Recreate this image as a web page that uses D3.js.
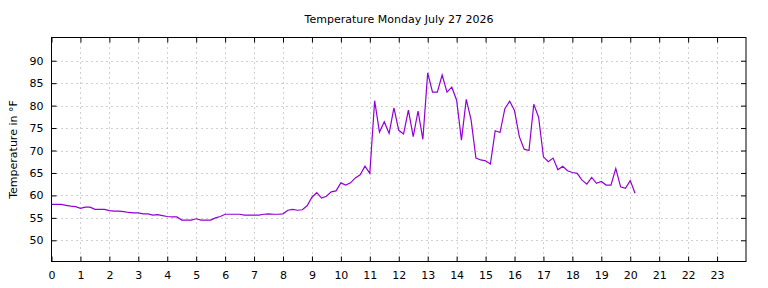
<!DOCTYPE html>
<html>
<head>
<meta charset="utf-8">
<script src="https://cdn.jsdelivr.net/npm/d3@7"></script>
<style>
  body { margin: 0; background: #fff; }
  svg text { font-family: "DejaVu Sans", sans-serif; font-size: 11px; fill: #000; }
</style>
</head>
<body>
<svg id="chart" width="768" height="288"></svg>
<script>
const title = "Temperature Monday July 27 2026";
const yLabel = "Temperature in °F";

// readings every 10 minutes, time of day
const times = [
  "00:00","00:10","00:20","00:30","00:40","00:50",
  "01:00","01:10","01:20","01:30","01:40","01:50",
  "02:00","02:10","02:20","02:30","02:40","02:50",
  "03:00","03:10","03:20","03:30","03:40","03:50",
  "04:00","04:10","04:20","04:30","04:40","04:50",
  "05:00","05:10","05:20","05:30","05:40","05:50",
  "06:00","06:10","06:20","06:30","06:40","06:50",
  "07:00","07:10","07:20","07:30","07:40","07:50",
  "08:00","08:10","08:20","08:30","08:40","08:50",
  "09:00","09:10","09:20","09:30","09:40","09:50",
  "10:00","10:10","10:20","10:30","10:40","10:50",
  "11:00","11:10","11:20","11:30","11:40","11:50",
  "12:00","12:10","12:20","12:30","12:40","12:50",
  "13:00","13:10","13:20","13:30","13:40","13:50",
  "14:00","14:10","14:20","14:30","14:40","14:50",
  "15:00","15:10","15:20","15:30","15:40","15:50",
  "16:00","16:10","16:20","16:30","16:40","16:50",
  "17:00","17:10","17:20","17:30","17:40","17:50",
  "18:00","18:10","18:20","18:30","18:40","18:50",
  "19:00","19:10","19:20","19:30","19:40","19:50",
  "20:00","20:10"
];

const temps = [
  58.0, 58.0, 58.0, 57.8, 57.6, 57.5,
  57.1, 57.4, 57.4, 56.9, 56.9, 56.9,
  56.6, 56.5, 56.5, 56.4, 56.2, 56.1,
  56.1, 55.9, 55.9, 55.6, 55.7, 55.5,
  55.3, 55.2, 55.2, 54.5, 54.5, 54.5,
  54.8, 54.5, 54.5, 54.5, 55.0, 55.3,
  55.8, 55.8, 55.8, 55.8, 55.6, 55.6,
  55.6, 55.6, 55.8, 55.9, 55.8, 55.8,
  55.9, 56.7, 56.9, 56.7, 56.8, 57.7,
  59.6, 60.6, 59.4, 59.8, 60.8, 61.0,
  62.8, 62.3, 62.8, 63.9, 64.6, 66.5,
  64.9, 81.1, 74.1, 76.4, 73.8, 79.5,
  74.5, 73.7, 79.0, 73.1, 78.8, 72.5,
  87.3, 83.0, 83.0, 86.8, 83.0, 84.1,
  81.2, 72.3, 81.4, 76.8, 68.3, 67.9,
  67.7, 67.0, 74.4, 74.0, 79.3, 81.0,
  78.9, 73.1, 70.3, 70.0, 80.3, 77.4,
  68.6, 67.5, 68.3, 65.7, 66.5, 65.5,
  65.1, 64.9, 63.4, 62.5, 64.0, 62.7,
  63.1, 62.3, 62.3, 66.0, 61.9, 61.6,
  63.3, 60.5
];

const xTicks = d3.range(0, 24);
const yTicks = [50, 55, 60, 65, 70, 75, 80, 85, 90];

const toHours = t => { const [h, m] = t.split(":").map(Number); return h + m / 60; };
const data = times.map((t, i) => ({ hour: toHours(t), temp: temps[i] }));

const svg = d3.select("#chart");
const margin = { top: 37.5, right: 22, bottom: 26.5, left: 51.5 };
const width = +svg.attr("width");
const height = +svg.attr("height");

const x = d3.scaleLinear().domain([0, 24]).range([margin.left, width - margin.right]);
const y = d3.scaleLinear().domain([45.28, 95.17]).range([height - margin.bottom, margin.top]);

// grid
const grid = svg.append("g")
    .attr("stroke", "#a0a0a0")
    .attr("stroke-width", 1)
    .attr("stroke-dasharray", "1,4");
grid.selectAll(".vg").data(xTicks.filter(d => d > 0)).enter().append("line")
    .attr("x1", d => Math.round(x(d)) + 0.5).attr("x2", d => Math.round(x(d)) + 0.5)
    .attr("y1", y.range()[1]).attr("y2", y.range()[0]);
grid.selectAll(".hg").data(yTicks).enter().append("line")
    .attr("x1", x.range()[0]).attr("x2", x.range()[1])
    .attr("y1", d => Math.round(y(d)) + 0.5).attr("y2", d => Math.round(y(d)) + 0.5);

// axes, ticks pointing inward
svg.append("g")
    .attr("transform", `translate(0,${y.range()[0]})`)
    .call(d3.axisBottom(x).tickValues(xTicks).tickSize(-5).tickPadding(10).tickFormat(d3.format("d")))
    .call(g => g.select(".domain").remove());
svg.append("g")
    .attr("transform", `translate(0,${y.range()[1]})`)
    .call(d3.axisTop(x).tickValues(xTicks).tickSize(-5).tickFormat(""))
    .call(g => g.select(".domain").remove());
svg.append("g")
    .attr("transform", `translate(${x.range()[0]},0)`)
    .call(d3.axisLeft(y).tickValues(yTicks).tickSize(-5).tickPadding(8))
    .call(g => g.select(".domain").remove());
svg.append("g")
    .attr("transform", `translate(${x.range()[1]},0)`)
    .call(d3.axisRight(y).tickValues(yTicks).tickSize(-5).tickFormat(""))
    .call(g => g.select(".domain").remove());

svg.selectAll(".tick text").attr("font-size", null).attr("font-family", null);
svg.selectAll("g[font-size]").attr("font-size", null).attr("font-family", null);

// border
svg.append("rect")
    .attr("x", x.range()[0]).attr("y", y.range()[1])
    .attr("width", x.range()[1] - x.range()[0])
    .attr("height", y.range()[0] - y.range()[1])
    .attr("fill", "none").attr("stroke", "#000").attr("stroke-width", 1);

// temperature line
svg.append("path")
    .datum(data)
    .attr("fill", "none")
    .attr("stroke", "#9400d3")
    .attr("stroke-width", 1.2)
    .attr("d", d3.line().x(d => x(d.hour)).y(d => y(d.temp)));

svg.append("text")
    .attr("x", 399).attr("y", 23)
    .attr("text-anchor", "middle")
    .text(title);

svg.append("text")
    .attr("transform", `translate(17,${(y.range()[0] + y.range()[1]) / 2}) rotate(-90)`)
    .attr("text-anchor", "middle")
    .text(yLabel);
</script>
</body>
</html>
